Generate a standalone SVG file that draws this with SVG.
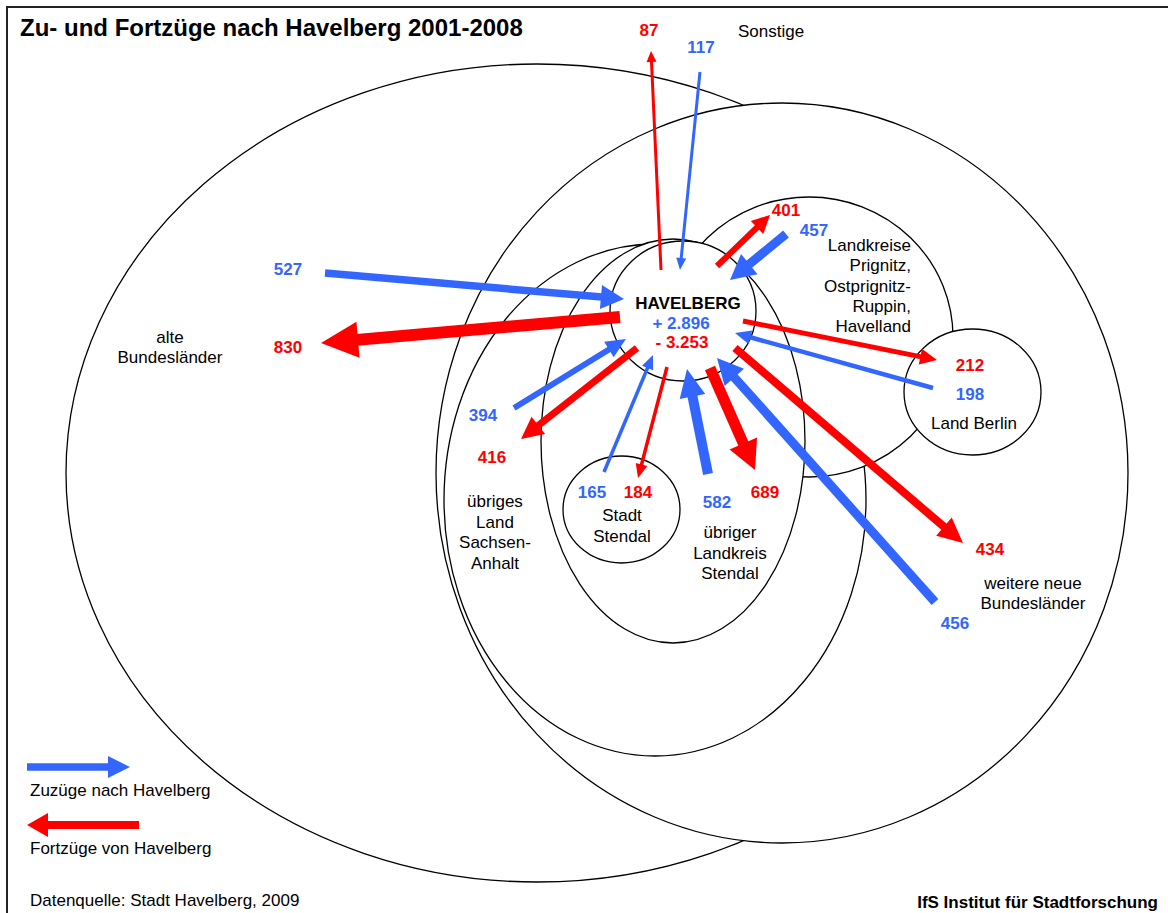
<svg xmlns="http://www.w3.org/2000/svg" width="1168" height="913" viewBox="0 0 1168 913">
<style>
text{font-family:"Liberation Sans",Arial,sans-serif;font-size:17px;fill:#000}
.t{font-size:24px;font-weight:bold}
.bd{font-weight:bold}
.nb{font-weight:bold;fill:#3366FF;text-anchor:middle}
.nr{font-weight:bold;fill:#FF0000;text-anchor:middle}
.c{text-anchor:middle}
.e{text-anchor:end}
.reg{fill:#fff;stroke:#000;stroke-width:1.3}
.b line{stroke:#3366FF}
.b polygon{fill:#3366FF}
.r line{stroke:#FF0000}
.r polygon{fill:#FF0000}
</style>
<rect x="0" y="0" width="1168" height="913" fill="#fff"/>
<path d="M7 913 V7 H1168" fill="none" stroke="#222" stroke-width="2"/>
<text class="t" x="20" y="36">Zu- und Fortzüge nach Havelberg 2001-2008</text>

<g id="alte-bundeslaender">
<ellipse class="reg" cx="537" cy="473" rx="471" ry="409"/>
</g>
<g id="weitere-neue-bundeslaender">
<ellipse class="reg" cx="782" cy="473" rx="346" ry="370"/>
</g>
<g id="sachsen-anhalt">
<ellipse class="reg" cx="655" cy="500" rx="211" ry="256"/>
</g>
<g id="landkreise-prignitz">
<ellipse class="reg" cx="809" cy="337" rx="144" ry="140"/>
</g>
<g id="landkreis-stendal">
<ellipse class="reg" cx="673" cy="441" rx="132" ry="202"/>
</g>
<g id="havelberg">
<ellipse class="reg" cx="683" cy="311" rx="73" ry="70"/>
</g>
<g id="stadt-stendal">
<ellipse class="reg" cx="621.5" cy="509.5" rx="58.5" ry="53.5"/>
</g>
<g id="land-berlin">
<ellipse class="reg" cx="972.5" cy="392" rx="68.5" ry="63"/>
</g>

<g id="connectors">
<g class="r" transform="translate(661 270) rotate(-92.61)"><line x1="0" y1="0" x2="209" y2="0" stroke-width="3"/><polygon points="219.2,0 208.2,-5 208.2,5"/></g>
<g class="b" transform="translate(700 72) rotate(95.77)"><line x1="0" y1="0" x2="188" y2="0" stroke-width="3"/><polygon points="199,0 187,-5 187,5"/></g>
<g class="b" transform="translate(325 273) rotate(4.97)"><line x1="0" y1="0" x2="278" y2="0" stroke-width="7.5"/><polygon points="300.1,0 277,-12 277,12"/></g>
<g class="r" transform="translate(620 317) rotate(175.03)"><line x1="0" y1="0" x2="264" y2="0" stroke-width="12"/><polygon points="300.1,0 263,-18 263,18"/></g>
<g class="b" transform="translate(514 408) rotate(-31.64)"><line x1="0" y1="0" x2="112.5" y2="0" stroke-width="6"/><polygon points="131.5,0 111.5,-9 111.5,9"/></g>
<g class="r" transform="translate(637 348) rotate(141.89)"><line x1="0" y1="0" x2="126.4" y2="0" stroke-width="7"/><polygon points="147.4,0 125.4,-11 125.4,11"/></g>
<g class="b" transform="translate(604 472) rotate(-67.27)"><line x1="0" y1="0" x2="113.8" y2="0" stroke-width="3.5"/><polygon points="126.8,0 112.8,-6 112.8,6"/></g>
<g class="r" transform="translate(667 367) rotate(104.64)"><line x1="0" y1="0" x2="101.7" y2="0" stroke-width="3.5"/><polygon points="114.7,0 100.7,-6 100.7,6"/></g>
<g class="b" transform="translate(708 474) rotate(-101.31)"><line x1="0" y1="0" x2="80" y2="0" stroke-width="10"/><polygon points="107.1,0 79.1,-13 79.1,13"/></g>
<g class="r" transform="translate(710 368) rotate(66.19)"><line x1="0" y1="0" x2="83.5" y2="0" stroke-width="11"/><polygon points="111.5,0 82.5,-15 82.5,15"/></g>
<g class="r" transform="translate(717 266) rotate(-43.9)"><line x1="0" y1="0" x2="56.6" y2="0" stroke-width="6"/><polygon points="73.6,0 55.6,-9 55.6,9"/></g>
<g class="b" transform="translate(786 234) rotate(140.6)"><line x1="0" y1="0" x2="48.5" y2="0" stroke-width="9"/><polygon points="72.5,0 47.5,-13 47.5,13"/></g>
<g class="r" transform="translate(743 321) rotate(11.37)"><line x1="0" y1="0" x2="181.9" y2="0" stroke-width="5"/><polygon points="197.9,0 180.9,-8 180.9,8"/></g>
<g class="b" transform="translate(933 388) rotate(-164.48)"><line x1="0" y1="0" x2="190.5" y2="0" stroke-width="4.5"/><polygon points="205.5,0 189.5,-7 189.5,7"/></g>
<g class="r" transform="translate(735 348) rotate(40.54)"><line x1="0" y1="0" x2="276" y2="0" stroke-width="8"/><polygon points="300,0 275,-12 275,12"/></g>
<g class="b" transform="translate(935 602) rotate(-131.78)"><line x1="0" y1="0" x2="302.2" y2="0" stroke-width="9"/><polygon points="327.2,0 301.2,-13 301.2,13"/></g>
</g>

<g id="labels">
<text class="nr" x="649" y="36">87</text>
<text class="nb" x="701" y="53">117</text>
<text x="738" y="37">Sonstige</text>
<text class="nb" x="288" y="275">527</text>
<text class="nr" x="288" y="353">830</text>
<text class="c" x="170" y="343">alte</text>
<text class="c" x="170" y="363">Bundesländer</text>
<text class="nb" x="483" y="421">394</text>
<text class="nr" x="492" y="463">416</text>
<text class="c" x="495" y="507">übriges</text>
<text class="c" x="495" y="527.5">Land</text>
<text class="c" x="495" y="548">Sachsen-</text>
<text class="c" x="495" y="568.5">Anhalt</text>
<text class="nb" x="592" y="498">165</text>
<text class="nr" x="638" y="498">184</text>
<text class="c" x="622" y="521">Stadt</text>
<text class="c" x="622" y="542">Stendal</text>
<text class="nb" x="717" y="508">582</text>
<text class="nr" x="765" y="498">689</text>
<text class="c" x="730" y="538">übriger</text>
<text class="c" x="730" y="559">Landkreis</text>
<text class="c" x="730" y="579">Stendal</text>
<text class="nr" x="786" y="216">401</text>
<text class="nb" x="814" y="236">457</text>
<text class="e" x="911" y="251">Landkreise</text>
<text class="e" x="911" y="271">Prignitz,</text>
<text class="e" x="911" y="292">Ostprignitz-</text>
<text class="e" x="911" y="312">Ruppin,</text>
<text class="e" x="911" y="332">Havelland</text>
<text class="nr" x="970" y="371">212</text>
<text class="nb" x="970" y="400">198</text>
<text class="c" x="974" y="429">Land Berlin</text>
<text class="nr" x="990" y="555">434</text>
<text class="c" x="1033" y="589">weitere neue</text>
<text class="c" x="1033" y="609">Bundesländer</text>
<text class="nb" x="955" y="629">456</text>
<text class="bd c" x="688" y="309">HAVELBERG</text>
<text class="nb" x="681" y="329">+ 2.896</text>
<text class="nr" x="682" y="348">- 3.253</text>
</g>

<g id="legend">
<g class="b" transform="translate(27 767)"><line x1="0" y1="0" x2="82" y2="0" stroke-width="7.5"/><polygon points="103,0 81,-11 81,11"/></g>
<text x="30" y="796">Zuzüge nach Havelberg</text>
<g class="r" transform="translate(139 825) rotate(180)"><line x1="0" y1="0" x2="92" y2="0" stroke-width="8"/><polygon points="112,0 91,-12 91,12"/></g>
<text x="30" y="854">Fortzüge von Havelberg</text>
</g>
<text x="30" y="906">Datenquelle: Stadt Havelberg, 2009</text>
<text class="bd e" x="1158" y="908">IfS Institut für Stadtforschung</text>
</svg>
